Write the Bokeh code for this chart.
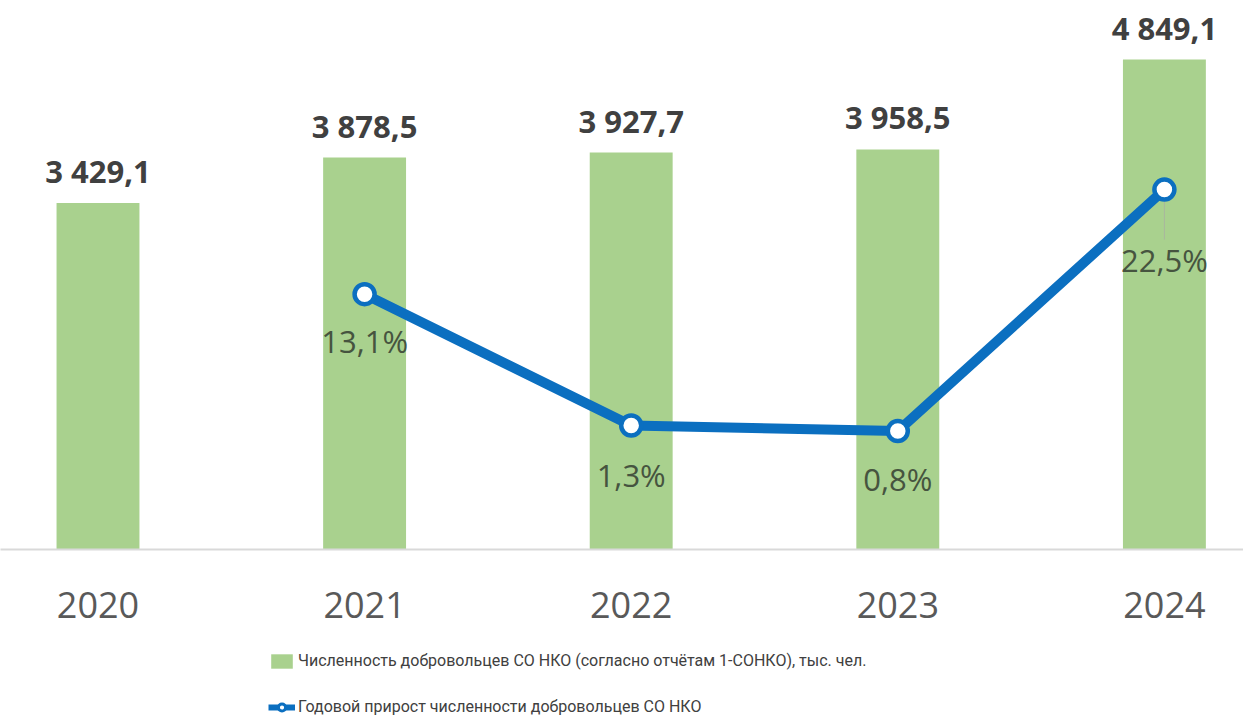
from bokeh.plotting import figure
from bokeh.layouts import column
from bokeh.models import ColumnDataSource, Range1d, Legend, LegendItem, FixedTicker
from bokeh.core.properties import value
from bokeh.embed import file_html
from bokeh.resources import INLINE

# ---- data ----
years = ["2020", "2021", "2022", "2023", "2024"]
volunteers = [3429.1, 3878.5, 3927.7, 3958.5, 4849.1]          # тыс. чел.
growth_years = ["2021", "2022", "2023", "2024"]
growth = [13.1, 1.3, 0.8, 22.5]                               # %
bar_legend = "Численность добровольцев СО НКО (согласно отчётам 1-СОНКО), тыс. чел."
line_legend = "Годовой прирост численности добровольцев СО НКО"

# ---- styles ----
BAR_COLOR = "#A9D18E"
LINE_COLOR = "#0B6FC0"
pct_label_offsets = [47, 49, 48, 70]

def fmt_num(v):
    return f"{v:,.1f}".replace(",", " ").replace(".", ",")

def fmt_pct(v):
    return f"{v:.1f}%".replace(".", ",")

xi = list(range(len(years)))
gx = [years.index(y) for y in growth_years]

bar_src = ColumnDataSource(dict(x=xi, v=volunteers, lbl=[fmt_num(v) for v in volunteers]))
line_src = ColumnDataSource(dict(x=gx, g=growth, lbl=[fmt_pct(g) for g in growth],
                                 dy=pct_label_offsets))

p = figure(width=1243, height=640, output_backend="svg", toolbar_location=None,
           x_range=Range1d(-0.3657, 4.2967), y_range=Range1d(0, 5433),
           y_axis_location=None, min_border_left=0, min_border_right=0,
           min_border_top=0, min_border_bottom=91)
p.extra_y_ranges = {"pct": Range1d(-9.84, 39.49)}
p.outline_line_color = None
p.xgrid.visible = False
p.ygrid.visible = False

bars = p.vbar(x="x", top="v", width=0.311, source=bar_src, fill_color=BAR_COLOR,
              line_color=None)
p.text(x="x", y="v", text="lbl", source=bar_src, text_align="center",
       text_baseline="alphabetic", y_offset=-32, text_font=value("Open Sans"),
       text_font_style="bold", text_font_size="31px", text_color="#404040")

# leader line for last label
last = growth[-1]
p.segment(x0=[gx[-1]], y0=[last - 1.1], x1=[gx[-1]], y1=[last - 4.5],
          line_color="#A9B79E", line_width=1, y_range_name="pct")

ln = p.line(x="x", y="g", source=line_src, line_color=LINE_COLOR, line_width=10,
            y_range_name="pct")
mk = p.scatter(x="x", y="g", source=line_src, size=20, fill_color="white",
               line_color=LINE_COLOR, line_width=4.5, y_range_name="pct")
p.text(x="x", y="g", text="lbl", source=line_src, text_align="center",
       text_baseline="middle", y_offset="dy", text_font=value("Open Sans"),
       text_font_size="31px", text_color="#46543F", y_range_name="pct")

# x axis
ax = p.xaxis[0]
ax.ticker = FixedTicker(ticks=xi)
ax.major_label_overrides = {i: y for i, y in zip(xi, years)}
ax.axis_line_color = "#D9D9D9"
ax.axis_line_width = 2
ax.major_tick_line_color = None
ax.minor_tick_line_color = None
ax.major_label_standoff = 36
ax.major_label_text_font = "Open Sans"
ax.major_label_text_font_size = "36px"
ax.major_label_text_color = "#595959"

# ---- legend strip ----
lg = figure(width=1243, height=80, output_backend="svg", toolbar_location=None,
            x_range=Range1d(0, 1), y_range=Range1d(0, 1),
            x_axis_location=None, y_axis_location=None,
            min_border_left=0, min_border_right=0, min_border_top=0, min_border_bottom=0)
lg.outline_line_color = None
lg.xgrid.visible = False
lg.ygrid.visible = False
# off-screen stand-ins so the legend has glyphs to draw
stub = ColumnDataSource(dict(x=[-5, -4], y=[-5, -4]))
lb = lg.vbar(x="x", top="y", width=0.1, source=stub, fill_color=BAR_COLOR, line_color=None)
ll = lg.line(x="x", y="y", source=stub, line_color=LINE_COLOR, line_width=6)
lm = lg.scatter(x="x", y="y", source=stub, fill_color="white", line_color=LINE_COLOR,
                line_width=3)

legend = Legend(items=[LegendItem(label=bar_legend, renderers=[lb]),
                       LegendItem(label=line_legend, renderers=[ll, lm])],
                location=(268, 4), orientation="vertical",
                glyph_width=27, glyph_height=18, label_height=18, spacing=27,
                label_standoff=3, padding=0, margin=0,
                label_text_font="Roboto", label_text_font_size="16px",
                label_text_color="#404040",
                background_fill_alpha=0, border_line_color=None)
lg.add_layout(legend, "center")

open("out.html", "w").write(file_html(column(p, lg, spacing=0), INLINE))
